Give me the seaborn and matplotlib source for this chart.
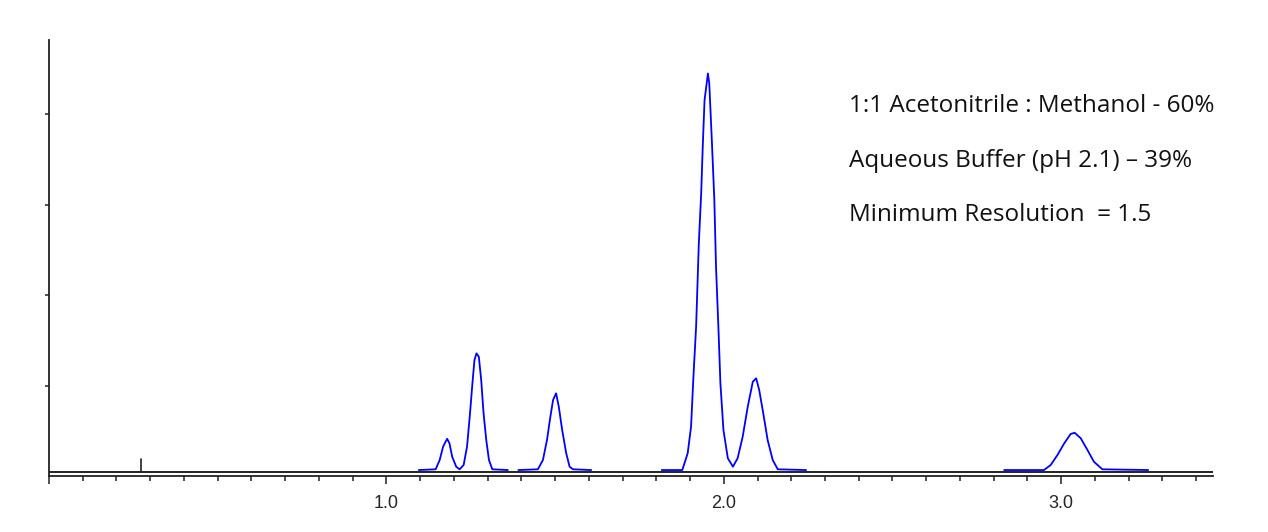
import numpy as np
import pandas as pd
import matplotlib
matplotlib.use("Agg")
import matplotlib.pyplot as plt
from matplotlib.ticker import MultipleLocator, FixedLocator
import seaborn as sns

# chromatogram trace (time in min, signal in tick units)
segA_time = [1.096, 1.146, 1.158, 1.168, 1.180, 1.187, 1.195, 1.207, 1.217, 1.229,
             1.239, 1.247, 1.255, 1.261, 1.267, 1.274, 1.281, 1.288, 1.296, 1.304,
             1.314, 1.360]
segA_signal = [0.066, 0.074, 0.177, 0.324, 0.412, 0.361, 0.213, 0.102, 0.074, 0.122,
               0.324, 0.655, 1.024, 1.282, 1.356, 1.318, 1.061, 0.693, 0.398, 0.177,
               0.074, 0.066]

segB_time = [1.391, 1.449, 1.464, 1.476, 1.486, 1.494, 1.503, 1.511, 1.521, 1.533,
             1.543, 1.553, 1.607]
segB_signal = [0.066, 0.074, 0.177, 0.398, 0.655, 0.840, 0.914, 0.766, 0.508, 0.251,
               0.103, 0.074, 0.066]

segC_time = [1.816, 1.877, 1.893, 1.903, 1.910, 1.918, 1.926, 1.933, 1.938, 1.943,
             1.953, 1.957, 1.965, 1.972, 1.977, 1.984, 1.990, 1.999, 2.012, 2.027,
             2.041, 2.056, 2.071, 2.086, 2.096, 2.105, 2.117, 2.130, 2.145, 2.160,
             2.244]
segC_signal = [0.066, 0.066, 0.251, 0.545, 1.097, 1.650, 2.571, 3.124, 3.676, 4.155,
               4.450, 4.339, 3.676, 3.050, 2.313, 1.650, 1.024, 0.508, 0.196, 0.103,
               0.196, 0.434, 0.766, 1.042, 1.080, 0.950, 0.693, 0.398, 0.177, 0.074,
               0.066]

segD_time = [2.831, 2.949, 2.969, 2.989, 3.009, 3.028, 3.040, 3.058, 3.078, 3.097,
             3.122, 3.258]
segD_signal = [0.066, 0.066, 0.122, 0.232, 0.361, 0.464, 0.478, 0.417, 0.287, 0.158,
               0.074, 0.066]

baseline_time = [0.0, 3.45]
baseline_signal = [0.044, 0.044]
inject_time = [0.2715, 0.2715]
inject_signal = [0.044, 0.188]

notes = ["1:1 Acetonitrile : Methanol - 60%",
         "Aqueous Buffer (pH 2.1) \u2013 39%",
         "Minimum Resolution  = 1.5"]

frames = []
for name, t, s in [("A", segA_time, segA_signal), ("B", segB_time, segB_signal),
                   ("C", segC_time, segC_signal), ("D", segD_time, segD_signal)]:
    frames.append(pd.DataFrame({"time": t, "signal": s, "segment": name}))
trace = pd.concat(frames, ignore_index=True)

sns.set_theme(style="ticks")
plt.rcParams['font.family'] = ['Liberation Sans', 'DejaVu Sans']

fig = plt.figure(figsize=(12.68, 5.32), dpi=100)
ax = fig.add_axes([49 / 1268, 56 / 532, (1213 - 49) / 1268, (476 - 40) / 532])

ax.plot(baseline_time, baseline_signal, color="#222222", lw=1.4)
ax.plot(inject_time, inject_signal, color="#222222", lw=1.2)
sns.lineplot(data=trace, x="time", y="signal", units="segment", estimator=None,
             sort=False, color="blue", lw=1.3, ax=ax)

ax.set_xlim(0, 3.45)
ax.set_ylim(0, 4.82)
ax.set_xlabel("")
ax.set_ylabel("")
sns.despine(ax=ax)
for side in ["left", "bottom"]:
    ax.spines[side].set_color("#222222")
    ax.spines[side].set_linewidth(1.3)

ax.xaxis.set_major_locator(FixedLocator([0, 1, 2, 3]))
ax.set_xticklabels(["", "1.0", "2.0", "3.0"], fontsize=13)
ax.xaxis.set_minor_locator(MultipleLocator(0.1))
ax.tick_params(axis="x", which="major", length=6, width=1.1, color="#222222", pad=8)
ax.tick_params(axis="x", which="minor", length=3.5, width=1.1, color="#222222")
ax.yaxis.set_major_locator(FixedLocator([1, 2, 3, 4]))
ax.set_yticklabels([])
ax.tick_params(axis="y", which="major", length=3, width=1.1, color="#222222")

for i, line in enumerate(notes):
    fig.text(849 / 1268, 1 - (106 + 54.5 * i) / 532, line, fontsize=17.5,
             family=["Open Sans", "DejaVu Sans"], va="center", ha="left", color="#111111")

fig.savefig("out.png", dpi=100)
